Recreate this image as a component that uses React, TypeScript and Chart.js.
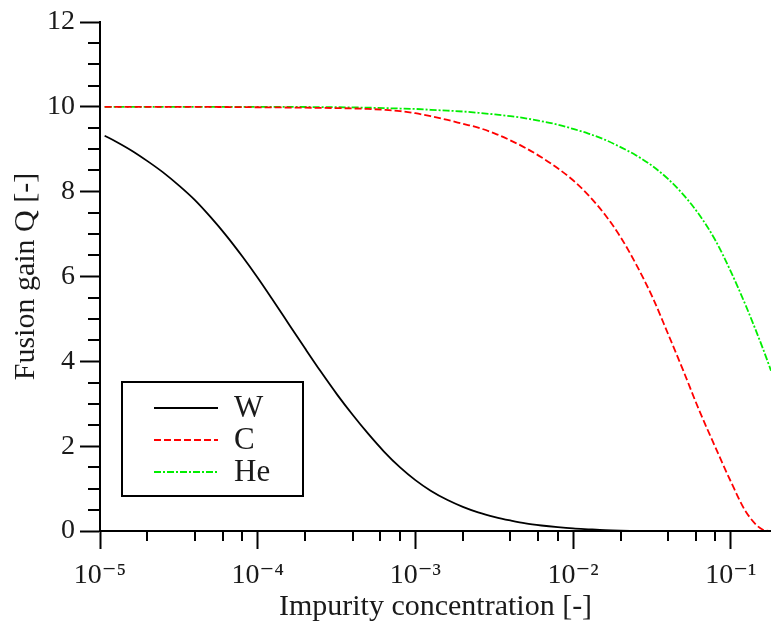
import React, { useEffect, useRef } from "react";
import { Chart, registerables } from "chart.js";

Chart.register(...registerables);

// ---- data ----
const wConc = [1.07e-5, 1.25e-5, 1.6e-5, 2e-5, 2.5e-5, 3.2e-5, 4e-5, 5e-5, 6.3e-5, 8e-5,
  1e-4, 1.25e-4, 1.6e-4, 2e-4, 2.5e-4, 3.2e-4, 4e-4, 5e-4, 6.3e-4, 8e-4,
  1e-3, 1.25e-3, 1.6e-3, 2e-3, 2.5e-3, 3.2e-3, 4e-3, 5e-3, 6.3e-3, 8e-3,
  1e-2, 1.25e-2, 1.6e-2, 2e-2, 3.2e-2, 0.18];
const wQ = [9.32, 9.19, 8.96, 8.72, 8.46, 8.13, 7.80, 7.41, 6.97, 6.47,
  5.97, 5.44, 4.84, 4.30, 3.77, 3.21, 2.74, 2.30, 1.88, 1.50,
  1.20, 0.95, 0.73, 0.57, 0.44, 0.33, 0.25, 0.18, 0.13, 0.09,
  0.06, 0.04, 0.02, 0.01, 0.0, 0.0];

const cConc = [1.07e-5, 3.2e-5, 1e-4, 2e-4, 3.2e-4, 5e-4, 6.3e-4, 8e-4,
  1e-3, 1.25e-3, 1.6e-3, 2e-3, 2.5e-3, 3.2e-3, 4e-3, 5e-3, 6.3e-3, 8e-3,
  1e-2, 1.25e-2, 1.6e-2, 2e-2, 2.5e-2, 3.2e-2, 4e-2, 5e-2, 6.3e-2, 8e-2,
  0.1, 0.125, 0.16, 0.18];
const cQ = [10.0, 10.0, 9.99, 9.98, 9.97, 9.95, 9.93, 9.90,
  9.85, 9.78, 9.69, 9.60, 9.51, 9.37, 9.21, 9.03, 8.81, 8.55,
  8.27, 7.92, 7.45, 6.93, 6.30, 5.50, 4.65, 3.78, 2.85, 1.97,
  1.17, 0.45, 0.03, 0.0];

const heConc = [1.07e-5, 1e-4, 3.2e-4, 5e-4, 6.3e-4, 8e-4,
  1e-3, 1.25e-3, 1.6e-3, 2e-3, 2.5e-3, 3.2e-3, 4e-3, 5e-3, 6.3e-3, 8e-3,
  1e-2, 1.25e-2, 1.6e-2, 2e-2, 2.5e-2, 3.2e-2, 4e-2, 5e-2, 6.3e-2, 8e-2,
  0.1, 0.125, 0.16, 0.18];
const heQ = [10.0, 10.0, 9.99, 9.98, 9.97, 9.96,
  9.95, 9.93, 9.91, 9.89, 9.86, 9.82, 9.78, 9.73, 9.66, 9.58,
  9.48, 9.37, 9.22, 9.05, 8.86, 8.60, 8.30, 7.93, 7.46, 6.85,
  6.12, 5.30, 4.30, 3.78];

const seriesNames = ["W", "C", "He"];
const xMajorTicks = [1e-5, 1e-4, 1e-3, 1e-2, 1e-1];
const xMinorMantissas = [2, 4, 6, 8];
const yMin = 0;
const yMax = 12;
const yMajorStep = 2;
const yMinorStep = 0.5;
const xMin = 1e-5;
const xMax = 0.18;
const xTitle = "Impurity concentration [-]";
const yTitle = "Fusion gain Q [-]";

const SUP: Record<string, string> = { "-": "\u207B", "0": "\u2070", "1": "\u00B9", "2": "\u00B2", "3": "\u00B3", "4": "\u2074", "5": "\u2075", "6": "\u2076", "7": "\u2077", "8": "\u2078", "9": "\u2079" };
const powLabel = (v: number) => {
  const e = Math.round(Math.log10(v));
  return "10" + String(e).split("").map((ch) => SUP[ch] || ch).join("");
};

const FONT = "'Liberation Serif', 'DejaVu Serif', serif";
const TEXT = "#1a1a1a";

const toPts = (xs: number[], ys: number[]) => xs.map((x, i) => ({ x, y: ys[i] }));

const minorTicksPlugin = {
  id: "minorTicks",
  afterDraw(chart: any) {
    const { ctx, chartArea } = chart;
    const xs = chart.scales.x;
    const ys = chart.scales.y;
    ctx.save();
    ctx.strokeStyle = "#000";
    ctx.lineWidth = 2;
    ctx.beginPath();
    for (let d = -5; d <= 0; d++) {
      for (const m of xMinorMantissas) {
        const v = m * Math.pow(10, d);
        if (v <= xMin || v >= xMax) continue;
        const px = Math.round(xs.getPixelForValue(v));
        ctx.moveTo(px, chartArea.bottom);
        ctx.lineTo(px, chartArea.bottom + 10);
      }
    }
    for (let v = yMin; v <= yMax + 1e-9; v += yMinorStep) {
      if (Math.abs(v / yMajorStep - Math.round(v / yMajorStep)) < 1e-6) continue;
      const py = Math.round(ys.getPixelForValue(v));
      ctx.moveTo(chartArea.left, py);
      ctx.lineTo(chartArea.left - 12, py);
    }
    ctx.stroke();
    ctx.restore();
  },
};

const boxLegendPlugin = {
  id: "boxLegend",
  afterDraw(chart: any) {
    const { ctx } = chart;
    const bx = 122, by = 382, bw = 181, bh = 114;
    ctx.save();
    ctx.fillStyle = "#fff";
    ctx.fillRect(bx, by, bw, bh);
    ctx.strokeStyle = "#000";
    ctx.lineWidth = 2;
    ctx.strokeRect(bx, by, bw, bh);
    chart.data.datasets.forEach((ds: any, i: number) => {
      const y = 408 + i * 32;
      ctx.beginPath();
      ctx.strokeStyle = ds.borderColor;
      ctx.lineWidth = ds.borderWidth;
      ctx.setLineDash(ds.borderDash || []);
      ctx.moveTo(154, y);
      ctx.lineTo(218, y);
      ctx.stroke();
      ctx.setLineDash([]);
      ctx.fillStyle = TEXT;
      ctx.font = `31px ${FONT}`;
      ctx.textBaseline = "middle";
      ctx.textAlign = "left";
      ctx.fillText(ds.label, 234, y + 1);
    });
    ctx.restore();
  },
};

export default function App() {
  const ref = useRef<HTMLCanvasElement | null>(null);
  useEffect(() => {
    if (!ref.current) return;
    const lineCommon = { pointRadius: 0, cubicInterpolationMode: "monotone", fill: false, borderWidth: 1.8 };
    const chart = new Chart(ref.current, {
      type: "line",
      data: {
        datasets: [
          { ...lineCommon, label: seriesNames[0], data: toPts(wConc, wQ), borderColor: "#000000", borderDash: [] },
          { ...lineCommon, label: seriesNames[1], data: toPts(cConc, cQ), borderColor: "#ff0000", borderDash: [7, 3] },
          { ...lineCommon, label: seriesNames[2], data: toPts(heConc, heQ), borderColor: "#00ee00", borderDash: [7, 2, 2, 2] },
        ],
      },
      options: {
        animation: false,
        responsive: false,
        devicePixelRatio: 1,
        layout: { padding: { top: 22, right: 0, bottom: 0, left: 0 } },
        plugins: { legend: { display: false }, tooltip: { enabled: false } },
        scales: {
          x: {
            type: "logarithmic",
            min: xMin,
            max: xMax,
            afterBuildTicks: (scale: any) => {
              scale.ticks = xMajorTicks.map((v) => ({ value: v }));
            },
            afterFit: (scale: any) => {
              scale.height = 95;
            },
            ticks: {
              autoSkip: false,
              maxRotation: 0,
              padding: 10,
              color: TEXT,
              font: { family: FONT, size: 28 },
              callback: (v: any) => powLabel(Number(v)),
            },
            grid: { drawOnChartArea: false, drawTicks: true, tickLength: 18, tickWidth: 2, tickColor: "#000" },
            border: { display: true, color: "#000", width: 2 },
            title: { display: true, text: xTitle, color: TEXT, font: { family: FONT, size: 30 }, padding: { top: 0, bottom: 1 } },
          },
          y: {
            type: "linear",
            min: yMin,
            max: yMax,
            afterFit: (scale: any) => {
              scale.width = 100;
            },
            ticks: {
              stepSize: yMajorStep,
              padding: 5,
              color: TEXT,
              font: { family: FONT, size: 28 },
            },
            grid: { drawOnChartArea: false, drawTicks: true, tickLength: 20, tickWidth: 2, tickColor: "#000" },
            border: { display: true, color: "#000", width: 2 },
            title: { display: true, text: yTitle, color: TEXT, font: { family: FONT, size: 30 }, padding: { top: 8, bottom: 0 } },
          },
        },
      },
      plugins: [minorTicksPlugin, boxLegendPlugin],
    } as any);
    return () => chart.destroy();
  }, []);
  return (
    <div style={{ position: "absolute", left: 0, top: 0, width: 771, height: 626, background: "#fff" }}>
      <canvas ref={ref} width={771} height={626} style={{ display: "block" }} />
    </div>
  );
}
